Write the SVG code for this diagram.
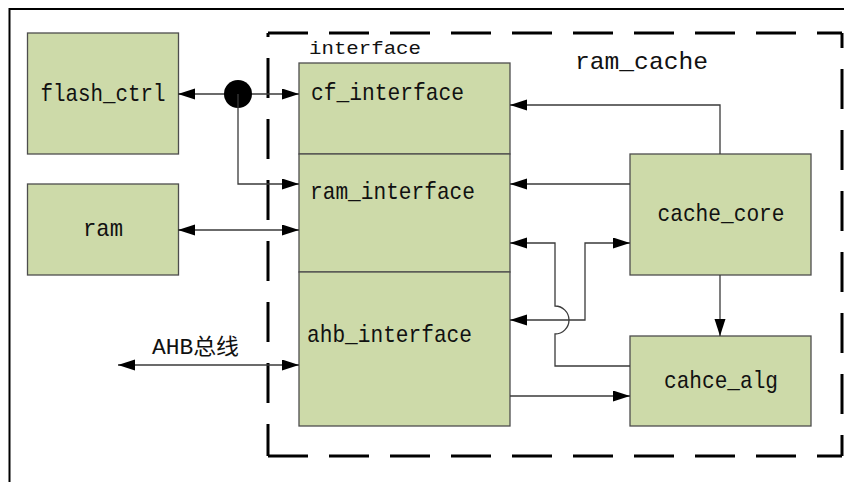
<svg xmlns="http://www.w3.org/2000/svg" width="844" height="482" viewBox="0 0 844 482">
<style>
.box{fill:#cddaa9;stroke:#4d4d4d;stroke-width:1.3}
.t{font-family:"Liberation Mono","Noto Sans CJK SC",monospace;font-size:24px;fill:#111}
.c{fill:none;stroke:#3a3a3a;stroke-width:1.3}
.d{fill:none;stroke:#000;stroke-width:3;stroke-dasharray:40 21}
</style>
<defs>
<marker id="ah" markerUnits="userSpaceOnUse" markerWidth="18" markerHeight="12" refX="17" refY="5.5" orient="auto-start-reverse">
<path d="M0,0 L17,5.5 L0,11 Z" fill="#000"/>
</marker>
</defs>
<g id="frame">
<path d="M9.5,482 V9 H844" fill="none" stroke="#000" stroke-width="2"/>
</g>
<g id="ram_cache_boundary">
<path class="d" d="M268,33 H842"/>
<path class="d" d="M842,33 V456" stroke-dashoffset="25"/>
<path class="d" d="M268,456 H842"/>
<path class="d" d="M268,33 V456" stroke-dashoffset="36"/>
<text class="t" x="575" y="69" textLength="133" lengthAdjust="spacingAndGlyphs" style="font-size:24px">ram_cache</text>
<text class="t" x="309" y="54" textLength="112" lengthAdjust="spacingAndGlyphs" style="font-size:19px">interface</text>
</g>
<g id="flash_ctrl">
<rect class="box" x="27.5" y="33" width="151" height="121"/>
<text class="t" x="103" y="101" text-anchor="middle" textLength="125" lengthAdjust="spacingAndGlyphs">flash_ctrl</text>
</g>
<g id="ram">
<rect class="box" x="27.5" y="184" width="151" height="91"/>
<text class="t" x="103" y="236" text-anchor="middle" textLength="40" lengthAdjust="spacingAndGlyphs">ram</text>
</g>
<g id="cf_interface">
<rect class="box" x="299" y="63" width="211" height="91"/>
<text class="t" x="311" y="100" textLength="153" lengthAdjust="spacingAndGlyphs">cf_interface</text>
</g>
<g id="ram_interface">
<rect class="box" x="299" y="154" width="211" height="118"/>
<text class="t" x="310" y="199" textLength="165" lengthAdjust="spacingAndGlyphs">ram_interface</text>
</g>
<g id="ahb_interface">
<rect class="box" x="299" y="272" width="211" height="154"/>
<text class="t" x="307" y="342" textLength="165" lengthAdjust="spacingAndGlyphs">ahb_interface</text>
</g>
<g id="cache_core">
<rect class="box" x="630" y="154" width="181" height="121"/>
<text class="t" x="721" y="221" text-anchor="middle" textLength="127" lengthAdjust="spacingAndGlyphs">cache_core</text>
</g>
<g id="cahce_alg">
<rect class="box" x="630" y="336" width="181" height="90"/>
<text class="t" x="721" y="388" text-anchor="middle" textLength="114" lengthAdjust="spacingAndGlyphs">cahce_alg</text>
</g>
<g id="ahb_bus">
<text class="t" x="152" y="354" textLength="87" lengthAdjust="spacingAndGlyphs" style="font-size:22px">AHB总线</text>
</g>
<g id="connectors">
<path class="c" d="M178,94 H299" marker-start="url(#ah)" marker-end="url(#ah)"/>
<circle cx="238" cy="94" r="14" fill="#000"/>
<path class="c" d="M238,94 V184 H299" marker-end="url(#ah)"/>
<path class="c" d="M178,230 H299" marker-start="url(#ah)" marker-end="url(#ah)"/>
<path class="c" d="M118,365 H299" marker-start="url(#ah)" marker-end="url(#ah)"/>
<path class="c" d="M720,154 V105 H510" marker-end="url(#ah)"/>
<path class="c" d="M630,184 H510" marker-end="url(#ah)"/>
<path class="c" d="M630,366 H555 V334 A14,14 0 0 0 555,306 V243 H510" marker-end="url(#ah)"/>
<path class="c" d="M510,320 H585 V243 H630" marker-start="url(#ah)" marker-end="url(#ah)"/>
<path class="c" d="M720,275 V336" marker-end="url(#ah)"/>
<path class="c" d="M510,396 H630" marker-end="url(#ah)"/>
</g>
</svg>
